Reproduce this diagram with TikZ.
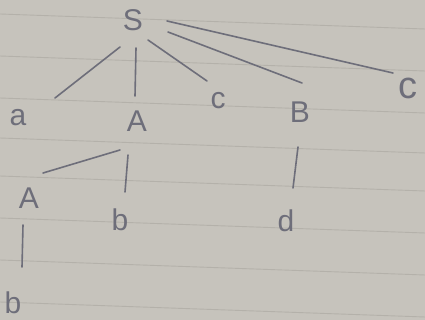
\documentclass[tikz,border=0pt]{standalone}
\usepackage{fontspec}
\setmainfont{Liberation Sans}
\begin{document}
\begin{tikzpicture}[x=1pt,y=-1pt,
  ink/.style={draw=inkc,line width=1.6pt,line cap=round},
  sym/.style={text=inkc,inner sep=0pt,font=\fontsize{30}{30}\selectfont},
  rule/.style={draw=rulec,line width=0.9pt}]
\definecolor{inkc}{HTML}{6E6E7A}
\definecolor{rulec}{HTML}{B4B1AA}
\definecolor{paper}{HTML}{C6C3BC}
\fill[paper] (0,0) rectangle (425,320);
\useasboundingbox (0,0) rectangle (425,320);
% ruled lines of the paper
\foreach \yy in {14,56,98,138,176,218,260,302}
  \draw[rule] (0,\yy) -- (425,\yy+15);
% nodes
\node[sym] (S)  at (133,20)  {S};
\node[sym] (a)  at (18,118)  {a};
\node[sym] (A1) at (137,121) {A};
\node[sym] (c1) at (218,101) {c};
\node[sym] (B)  at (300,112) {B};
\node[sym,font=\fontsize{38}{38}\selectfont] (c2) at (408,88) {c};
\node[sym] (A2) at (29,198)  {A};
\node[sym] (b1) at (120,220) {b};
\node[sym] (d)  at (286,221) {d};
\node[sym] (b2) at (13,303)  {b};
% connectors
\draw[ink] ([shift={(-13,27)}]S.center) -- ([shift={(37,-20)}]a.center);
\draw[ink] ([shift={(3,28)}]S.center) -- ([shift={(-2,-25)}]A1.center);
\draw[ink] ([shift={(15,20)}]S.center) -- ([shift={(-11,-20)}]c1.center);
\draw[ink] ([shift={(35,12)}]S.center) -- ([shift={(2,-29)}]B.center);
\draw[ink] ([shift={(34,1)}]S.center) -- ([shift={(-15,-15)}]c2.center);
\draw[ink] ([shift={(-17,29)}]A1.center) -- ([shift={(14,-25)}]A2.center);
\draw[ink] ([shift={(-9,34)}]A1.center) -- ([shift={(5,-28)}]b1.center);
\draw[ink] ([shift={(-2,35)}]B.center) -- ([shift={(7,-33)}]d.center);
\draw[ink] ([shift={(-6,27)}]A2.center) -- ([shift={(9,-36)}]b2.center);
\end{tikzpicture}
\end{document}
